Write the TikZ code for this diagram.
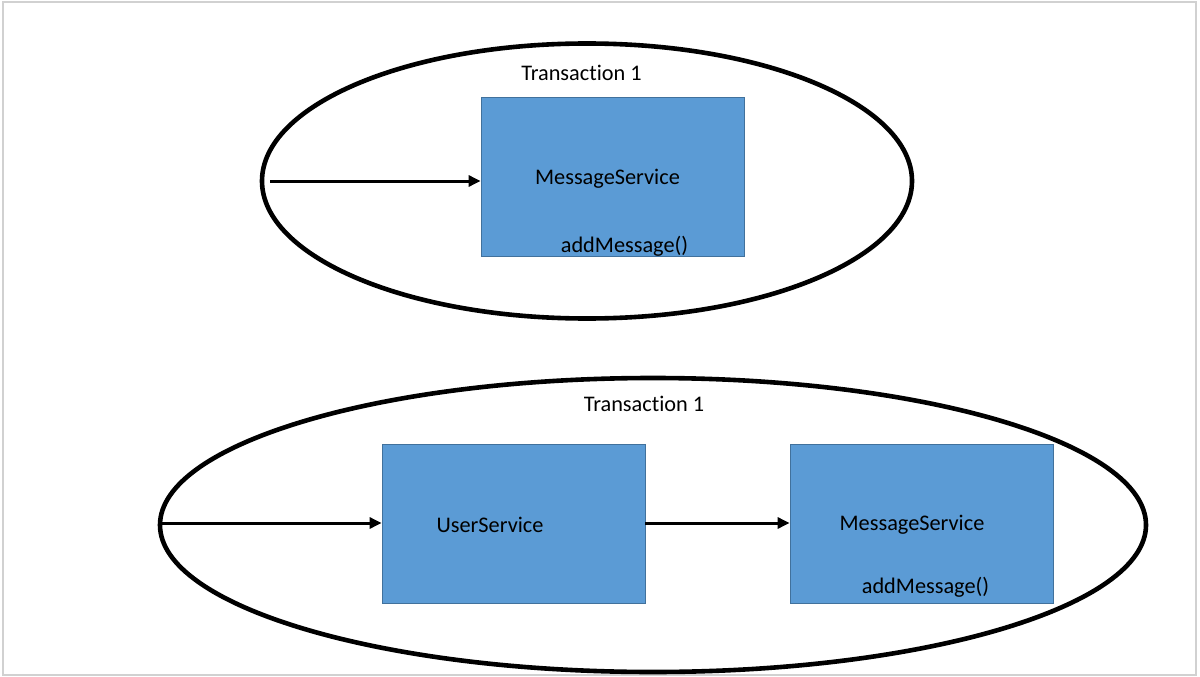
\documentclass[tikz,border=0pt]{standalone}
\usepackage{fontspec}
\setmainfont[Ligatures={NoCommon}]{Carlito}
\usetikzlibrary{shapes.geometric,arrows.meta}
\begin{document}
\begin{tikzpicture}[x=1pt,y=-1pt,
  frame/.style={draw=black!18,line width=2pt},
  txn/.style={ellipse,draw=black,line width=4.6pt,inner sep=0pt},
  svc/.style={rectangle,draw=svcborder,fill=svcfill,line width=0.8pt,inner sep=0pt,minimum width=263pt,minimum height=159pt},
  lbl/.style={font=\fontsize{22.3}{25}\selectfont,inner sep=0pt,text=black},
  conn/.style={draw=black,line width=3pt,-{Triangle[length=12pt,width=11pt]}}]
\definecolor{svcfill}{HTML}{5B9BD5}
\definecolor{svcborder}{HTML}{41719C}
\useasboundingbox (0,0) rectangle (1200,677);
\draw[frame] (3,2) rectangle (1196,675);
% top transaction
\node[txn,minimum width=650pt,minimum height=275pt] (e1) at (587,181) {};
\node[svc] (ms1) at (612.5,176.5) {};
\node[lbl] (t1) at (581.5,73) {Transaction 1};
\node[lbl] (ms1l) at (607.5,179) {MessageService};
\node[lbl] (am1) at (624.5,246) {addMessage()};
\coordinate (s1) at (270,181);
\draw[conn] (s1) -- (ms1.west |- s1);
% bottom transaction
\node[txn,minimum width=986pt,minimum height=294pt] (e2) at (653,525) {};
\node[svc] (us) at (513.5,524) {};
\node[svc] (ms2) at (921.5,524) {};
\node[lbl] (t2) at (644,404) {Transaction 1};
\node[lbl] (usl) at (490,525) {UserService};
\node[lbl] (ms2l) at (912,525) {MessageService};
\node[lbl] (am2) at (925.5,587) {addMessage()};
\coordinate (s2) at (161,523);
\draw[conn] (s2) -- (us.west |- s2);
\draw[conn] (us.east |- s2) -- (ms2.west |- s2);
\end{tikzpicture}
\end{document}
